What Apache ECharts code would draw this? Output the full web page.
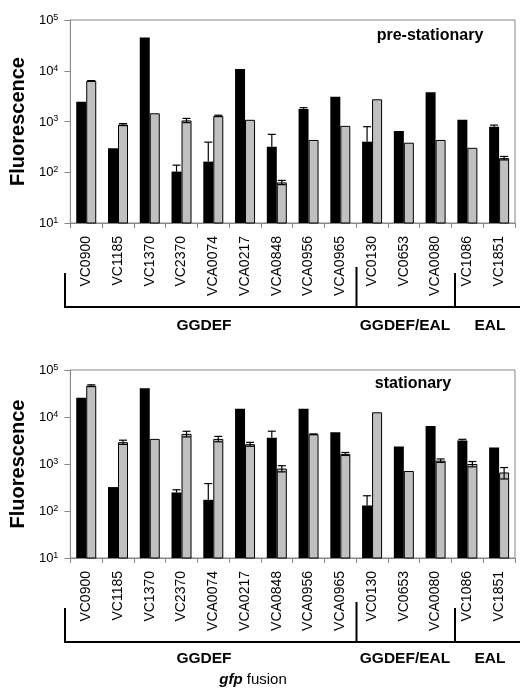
<!DOCTYPE html>
<html>
<head>
<meta charset="utf-8">
<script src="https://cdn.jsdelivr.net/npm/echarts@6/dist/echarts.min.js"></script>
<style>
html,body{margin:0;padding:0;background:#fff;}
#main{width:520px;height:691px;}
</style>
</head>
<body>
<div id="main"></div>
<script>
var categories = ['VC0900','VC1185','VC1370','VC2370','VCA0074','VCA0217','VCA0848','VCA0956','VCA0965','VC0130','VC0653','VCA0080','VC1086','VC1851'];
var groupNames = ['GGDEF','GGDEF/EAL','EAL'];
var groupSizes = [9, 3, 2];
var yTicks = [10, 100, 1000, 10000, 100000];

var preBlack    = [2450, 297, 45000, 103, 162, 10800, 318, 1770, 3090, 400, 650, 3770, 1080, 790];
var preBlackErr = [0, 0, 0, 35, 230, 0, 240, 100, 0, 390, 0, 0, 0, 60];
var preGray     = [6300, 870, 1450, 1050, 1290, 1080, 63, 433, 820, 2740, 382, 433, 303, 190];
var preGrayErr  = [100, 40, 0, 100, 40, 0, 6, 0, 0, 0, 0, 0, 0, 15];

var statBlack    = [25800, 323, 40800, 248, 173, 14900, 3640, 14900, 4750, 131, 2350, 6460, 3150, 2240];
var statBlackErr = [0, 0, 0, 35, 210, 0, 1350, 0, 0, 80, 0, 0, 200, 0];
var statGray     = [46400, 2910, 3420, 4370, 3420, 2640, 800, 4300, 1640, 12600, 710, 1180, 1000, 660];
var statGrayErr  = [2000, 300, 0, 600, 450, 250, 120, 60, 120, 0, 0, 100, 130, 180];

var FONT = '"Liberation Sans", Arial, Helvetica, sans-serif';
var chart = echarts.init(document.getElementById('main'), null, {renderer:'canvas'});

function xAxisCfg(gi){
  return {
    type:'category', gridIndex:gi, data:categories, boundaryGap:true,
    axisLine:{lineStyle:{color:'#888', width:1}},
    axisTick:{show:true, length:5, lineStyle:{color:'#888'}},
    axisLabel:{rotate:90, margin:13, fontSize:14, color:'#000', fontFamily:FONT, interval:0}
  };
}
function yAxisCfg(gi){
  return {
    type:'log', logBase:10, gridIndex:gi, min:10, max:100000,
    name:'Fluorescence', nameLocation:'middle', nameRotate:90, nameGap:41,
    nameTextStyle:{fontSize:20, fontWeight:'bold', color:'#000', fontFamily:FONT},
    axisLine:{show:true, lineStyle:{color:'#888'}},
    axisTick:{show:true, length:6, lineStyle:{color:'#888'}},
    splitLine:{show:false},
    axisLabel:{
      margin:12, color:'#000', fontFamily:FONT,
      formatter:function(v){ var e=Math.round(Math.log(v)/Math.LN10); return '{b|10}{s|'+e+'}'; },
      rich:{
        b:{fontSize:13, fontFamily:FONT, color:'#000', lineHeight:14, verticalAlign:'bottom'},
        s:{fontSize:9, fontFamily:FONT, color:'#000', lineHeight:8, verticalAlign:'top'}
      }
    }
  };
}
function barSeries(gi, vals, color, border){
  return {
    type:'bar', xAxisIndex:gi, yAxisIndex:gi, data:vals, barWidth:10, barGap:'0%',
    itemStyle:{color:color, borderColor:'#000', borderWidth:border},
    silent:true, z:2
  };
}
function errSeries(gi, vals, errs, dx, both){
  var d = vals.map(function(v,i){ return [i, v, errs[i]]; });
  return {
    type:'custom', xAxisIndex:gi, yAxisIndex:gi, data:d, encode:{x:0,y:1}, z:5, silent:true,
    renderItem:function(params, api){
      var err = api.value(2);
      if(!err) return null;
      var v = api.value(1);
      var c = api.coord([api.value(0), v]);
      var t = api.coord([api.value(0), v+err]);
      var x = c[0] + dx;
      var lo = both ? api.coord([api.value(0), Math.max(v-err, 10.01)]) : c;
      var st = {stroke:'#000', lineWidth:1.2};
      var kids = [
        {type:'line', shape:{x1:x, y1:lo[1], x2:x, y2:t[1]}, style:st},
        {type:'line', shape:{x1:x-4, y1:t[1], x2:x+4, y2:t[1]}, style:st}
      ];
      if(both) kids.push({type:'line', shape:{x1:x-4, y1:lo[1], x2:x+4, y2:lo[1]}, style:st});
      return {type:'group', children:kids};
    }
  };
}
function bracket(y0){
  var s = {stroke:'#000', lineWidth:2};
  return [
    {type:'line', shape:{x1:65, y1:y0-34, x2:65, y2:y0}, style:s},
    {type:'line', shape:{x1:64, y1:y0, x2:520, y2:y0}, style:s},
    {type:'line', shape:{x1:356.5, y1:y0-40, x2:356.5, y2:y0}, style:s},
    {type:'line', shape:{x1:455, y1:y0-34, x2:455, y2:y0}, style:s}
  ];
}
function groupText(y){
  var xs = [204, 405, 490];
  return groupNames.map(function(n,i){
    return {type:'text', x:xs[i], y:y, style:{text:n, font:'bold 15.5px '+FONT, fill:'#000', textAlign:'center', textVerticalAlign:'middle'}};
  });
}

var graphics = [].concat(
  bracket(307), bracket(642),
  groupText(326), groupText(659),
  [
    {type:'text', x:430, y:36, style:{text:'pre-stationary', font:'bold 16px '+FONT, fill:'#000', textAlign:'center', textVerticalAlign:'middle'}},
    {type:'text', x:413, y:384, style:{text:'stationary', font:'bold 16px '+FONT, fill:'#000', textAlign:'center', textVerticalAlign:'middle'}},
    {type:'text', x:253, y:680, style:{text:'{i|gfp} fusion', font:'15px '+FONT, fill:'#000', textAlign:'center', textVerticalAlign:'middle',
      rich:{i:{fontStyle:'italic', fontWeight:'bold', fontSize:15, fontFamily:FONT}}}}
  ]
);

chart.setOption({
  animation:false,
  backgroundColor:'#fff',
  grid:[
    {left:63, top:20, width:452, height:203, show:true, borderColor:'#888', borderWidth:1, backgroundColor:'transparent'},
    {left:63, top:370, width:452, height:188, show:true, borderColor:'#888', borderWidth:1, backgroundColor:'transparent'}
  ],
  xAxis:[xAxisCfg(0), xAxisCfg(1)],
  yAxis:[yAxisCfg(0), yAxisCfg(1)],
  series:[
    barSeries(0, preBlack, '#000', 0),
    barSeries(0, preGray, '#c0c0c0', 1),
    errSeries(0, preBlack, preBlackErr, -5, false),
    errSeries(0, preGray, preGrayErr, 5, true),
    barSeries(1, statBlack, '#000', 0),
    barSeries(1, statGray, '#c0c0c0', 1),
    errSeries(1, statBlack, statBlackErr, -5, false),
    errSeries(1, statGray, statGrayErr, 5, true)
  ],
  graphic:graphics
});
</script>
</body>
</html>
